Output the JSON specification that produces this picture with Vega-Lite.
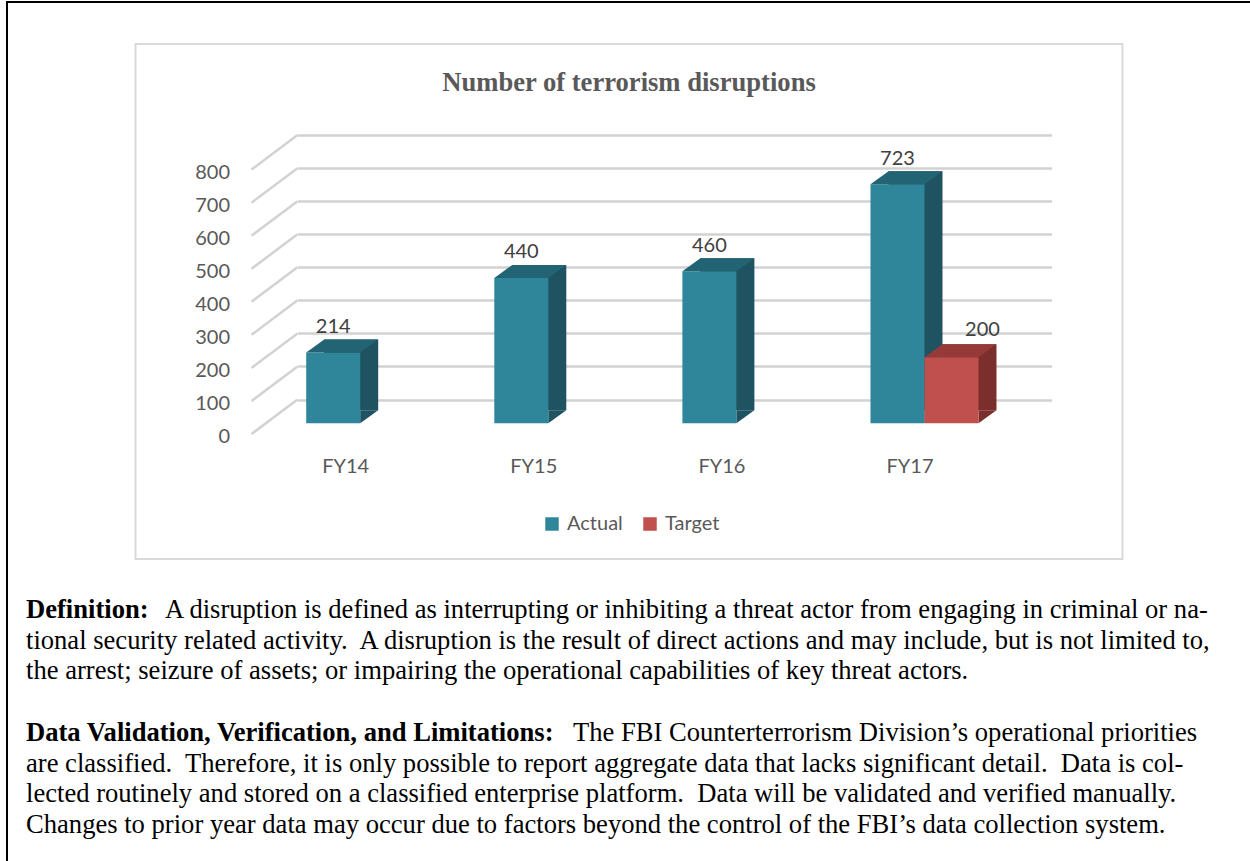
{
  "$schema": "https://vega.github.io/schema/vega-lite/v6.json",
  "padding": {"left": 6, "top": 1, "right": 0, "bottom": 0},
  "background": "white",
  "bounds": "flush",
  "spacing": 0,
  "config": {"font": "Lato"},
  "hconcat": [
    {
      "width": 2,
      "height": 861,
      "view": {"fill": "black", "stroke": null},
      "data": {"values": []},
      "mark": {"type": "text"},
      "encoding": {}
    },
    {
      "vconcat": [
        {
          "width": 1242,
          "height": 2,
          "view": {"fill": "black", "stroke": null},
          "data": {"values": []},
          "mark": {"type": "text"},
          "encoding": {}
        },
        {
          "width": 987,
          "height": 515,
          "view": {"stroke": "#d9d9d9", "strokeWidth": 2},
          "title": {
            "text": "Number of terrorism disruptions",
            "font": "Liberation Serif",
            "fontSize": 26.6,
            "fontWeight": "bold",
            "color": "#595959",
            "anchor": "middle",
            "frame": "group",
            "baseline": "alphabetic",
            "offset": -74
          },
          "data": {
            "values": [
              {"year": "FY14", "series": "Actual", "value": 214},
              {"year": "FY15", "series": "Actual", "value": 440},
              {"year": "FY16", "series": "Actual", "value": 460},
              {"year": "FY17", "series": "Actual", "value": 723},
              {"year": "FY17", "series": "Target", "value": 200}
            ]
          },
          "resolve": {"scale": {"xOffset": "independent"}},
          "layer": [
            {
              "data": {"values": [{"v": 0}, {"v": 100}, {"v": 200}, {"v": 300}, {"v": 400}, {"v": 500}, {"v": 600}, {"v": 700}, {"v": 800}]},
              "mark": {"type": "rule", "color": "#d2d2d2", "strokeWidth": 2.5, "xOffset": -8.7, "x2Offset": -108.7, "y2Offset": 34.5},
              "encoding": {
                "x": {"datum": "FY14", "type": "nominal", "bandPosition": 0},
                "x2": {"datum": "FY14"},
                "y": {"field": "v", "type": "quantitative", "title": null,
                  "scale": {"domain": [0, 800], "range": [355.5, 91.1], "nice": false, "zero": true},
                  "axis": {"values": [0, 100, 200, 300, 400, 500, 600, 700, 800], "grid": true, "gridColor": "#d2d2d2", "gridWidth": 2.5, "domain": false, "ticks": false, "tickSize": 0, "labelPadding": 0, "offset": -94, "labelOffset": 43.2, "labelBaseline": "alphabetic", "labelAlign": "right", "labelFont": "Lato", "labelFontSize": 20, "labelColor": "#595959", "labelFlush": false, "labelOverlap": false, "title": null}},
                "y2": {"field": "v"}
              }
            },
            {
              "mark": {"type": "bar", "yOffset": 10.8, "y2Offset": 10.8},
              "encoding": {
                "x": {"field": "year", "type": "nominal", "sort": ["FY14", "FY15", "FY16", "FY17"], "title": null,
                  "scale": {"range": [162, 916], "paddingInner": 0.4258, "paddingOuter": 0.2172, "align": 0.1065},
                  "axis": {"domain": false, "ticks": false, "tickSize": 0, "grid": false, "labelPadding": 0, "offset": -86.7, "labelOffset": -14.5, "labelAlign": "center", "labelBaseline": "alphabetic", "labelAngle": 0, "labelFont": "Lato", "labelFontSize": 20, "labelColor": "#595959", "title": null}},
                "xOffset": {"field": "series", "type": "nominal", "scale": {"type": "band", "domain": ["Actual", "Target"], "range": [18, 126], "paddingInner": 0, "paddingOuter": 0}},
                "y": {"field": "value", "type": "quantitative", "title": null},
                "fill": {"condition": {"test": "datum.series === 'Target'", "value": "#7a2f2d"}, "value": "#1f5361"}
              }
            },
            {
              "mark": {"type": "point", "filled": true, "opacity": 1, "strokeWidth": 0, "size": 4, "shape": "M 27 0 L 27 -13 L 45 -13 Z", "yOffset": 23.8},
              "encoding": {
                "x": {"field": "year", "type": "nominal", "sort": ["FY14", "FY15", "FY16", "FY17"], "title": null},
                "xOffset": {"field": "series", "type": "nominal", "scale": {"type": "band", "domain": ["Actual", "Target"], "paddingInner": 0, "paddingOuter": 0}},
                "y": {"datum": 0, "type": "quantitative"},
                "fill": {"condition": {"test": "datum.series === 'Target'", "value": "#7a2f2d"}, "value": "#1f5361"}
              }
            },
            {
              "mark": {"type": "bar", "yOffset": 23.8, "y2Offset": 23.8},
              "encoding": {
                "x": {"field": "year", "type": "nominal", "sort": ["FY14", "FY15", "FY16", "FY17"], "title": null},
                "xOffset": {"field": "series", "type": "nominal", "scale": {"type": "band", "domain": ["Actual", "Target"], "paddingInner": 0, "paddingOuter": 0}},
                "y": {"field": "value", "type": "quantitative", "title": null},
                "color": {"field": "series", "type": "nominal",
                  "scale": {"domain": ["Actual", "Target"], "range": ["#2f8599", "#c0504d"]},
                  "legend": {"orient": "none", "legendX": 536, "legendY": 513, "direction": "horizontal", "title": null, "symbolType": "square", "symbolSize": 182, "symbolStrokeWidth": 0, "labelFont": "Lato", "labelFontSize": 20, "labelColor": "#595959", "labelOffset": 5, "columnPadding": 17, "padding": 0}}
              }
            },
            {
              "mark": {"type": "point", "filled": true, "opacity": 1, "strokeWidth": 0, "size": 4, "shape": "M -27 0 L 27 0 L 45 -13 L -9 -13 Z", "yOffset": 23.8},
              "encoding": {
                "x": {"field": "year", "type": "nominal", "sort": ["FY14", "FY15", "FY16", "FY17"], "title": null},
                "xOffset": {"field": "series", "type": "nominal", "scale": {"type": "band", "domain": ["Actual", "Target"], "paddingInner": 0, "paddingOuter": 0}},
                "y": {"field": "value", "type": "quantitative", "title": null},
                "fill": {"condition": {"test": "datum.series === 'Target'", "value": "#953a37"}, "value": "#236474"}
              }
            },
            {
              "transform": [{"filter": "datum.series === 'Actual'"}],
              "mark": {"type": "text", "font": "Lato", "fontSize": 20, "color": "#404040", "baseline": "alphabetic", "dy": 4.3},
              "encoding": {
                "x": {"field": "year", "type": "nominal", "sort": ["FY14", "FY15", "FY16", "FY17"], "title": null},
                "xOffset": {"field": "series", "type": "nominal", "scale": {"type": "band", "domain": ["Actual", "Target"], "paddingInner": 0, "paddingOuter": 0}},
                "y": {"field": "value", "type": "quantitative", "title": null},
                "text": {"field": "value", "type": "quantitative"}
              }
            },
            {
              "transform": [{"filter": "datum.series === 'Target'"}],
              "mark": {"type": "text", "font": "Lato", "fontSize": 20, "color": "#404040", "baseline": "alphabetic", "dy": 2.5, "dx": 31},
              "encoding": {
                "x": {"field": "year", "type": "nominal", "sort": ["FY14", "FY15", "FY16", "FY17"], "title": null},
                "xOffset": {"field": "series", "type": "nominal", "scale": {"type": "band", "domain": ["Actual", "Target"], "paddingInner": 0, "paddingOuter": 0}},
                "y": {"field": "value", "type": "quantitative", "title": null},
                "text": {"field": "value", "type": "quantitative"}
              }
            }
          ]
        },
        {
          "width": 1206,
          "height": 262,
          "view": {"stroke": null},
          "data": {
            "values": [
              {"line": 0, "lead": "Definition:", "text": "A disruption is defined as interrupting or inhibiting a threat actor from engaging in criminal or na-"},
              {"line": 1, "text": "tional security related activity.\u00a0 A disruption is the result of direct actions and may include, but is not limited to,"},
              {"line": 2, "text": "the arrest; seizure of assets; or impairing the operational capabilities of key threat actors."},
              {"line": 4, "lead": "Data Validation, Verification, and Limitations:", "text": "The FBI Counterterrorism Division’s operational priorities"},
              {"line": 5, "text": "are classified.\u00a0 Therefore, it is only possible to report aggregate data that lacks significant detail.\u00a0 Data is col-"},
              {"line": 6, "text": "lected routinely and stored on a classified enterprise platform.\u00a0 Data will be validated and verified manually."},
              {"line": 7, "text": "Changes to prior year data may occur due to factors beyond the control of the FBI’s data collection system."}
            ]
          },
          "encoding": {
            "y": {"field": "line", "type": "quantitative", "scale": {"domain": [0, 7], "range": [18, 233]}, "axis": null}
          },
          "layer": [
            {
              "transform": [{"filter": "datum.lead"}],
              "mark": {"type": "text", "align": "left", "baseline": "alphabetic", "font": "Liberation Serif", "fontSize": 26.6, "fontWeight": "bold", "color": "#000000"},
              "encoding": {"x": {"value": 0}, "text": {"field": "lead"}}
            },
            {
              "transform": [{"filter": "!datum.lead"}],
              "mark": {"type": "text", "align": "left", "baseline": "alphabetic", "font": "Liberation Serif", "fontSize": 26.6, "color": "#000000"},
              "encoding": {"x": {"value": 0}, "text": {"field": "text"}}
            },
            {
              "transform": [{"filter": "datum.line === 0"}],
              "mark": {"type": "text", "align": "left", "baseline": "alphabetic", "font": "Liberation Serif", "fontSize": 26.6, "color": "#000000", "dx": 139},
              "encoding": {"x": {"value": 0}, "text": {"field": "text"}}
            },
            {
              "transform": [{"filter": "datum.line === 4"}],
              "mark": {"type": "text", "align": "left", "baseline": "alphabetic", "font": "Liberation Serif", "fontSize": 26.6, "color": "#000000", "dx": 547},
              "encoding": {"x": {"value": 0}, "text": {"field": "text"}}
            }
          ]
        }
      ],
      "spacing": 41,
      "center": true,
      "bounds": "flush"
    }
  ]
}
